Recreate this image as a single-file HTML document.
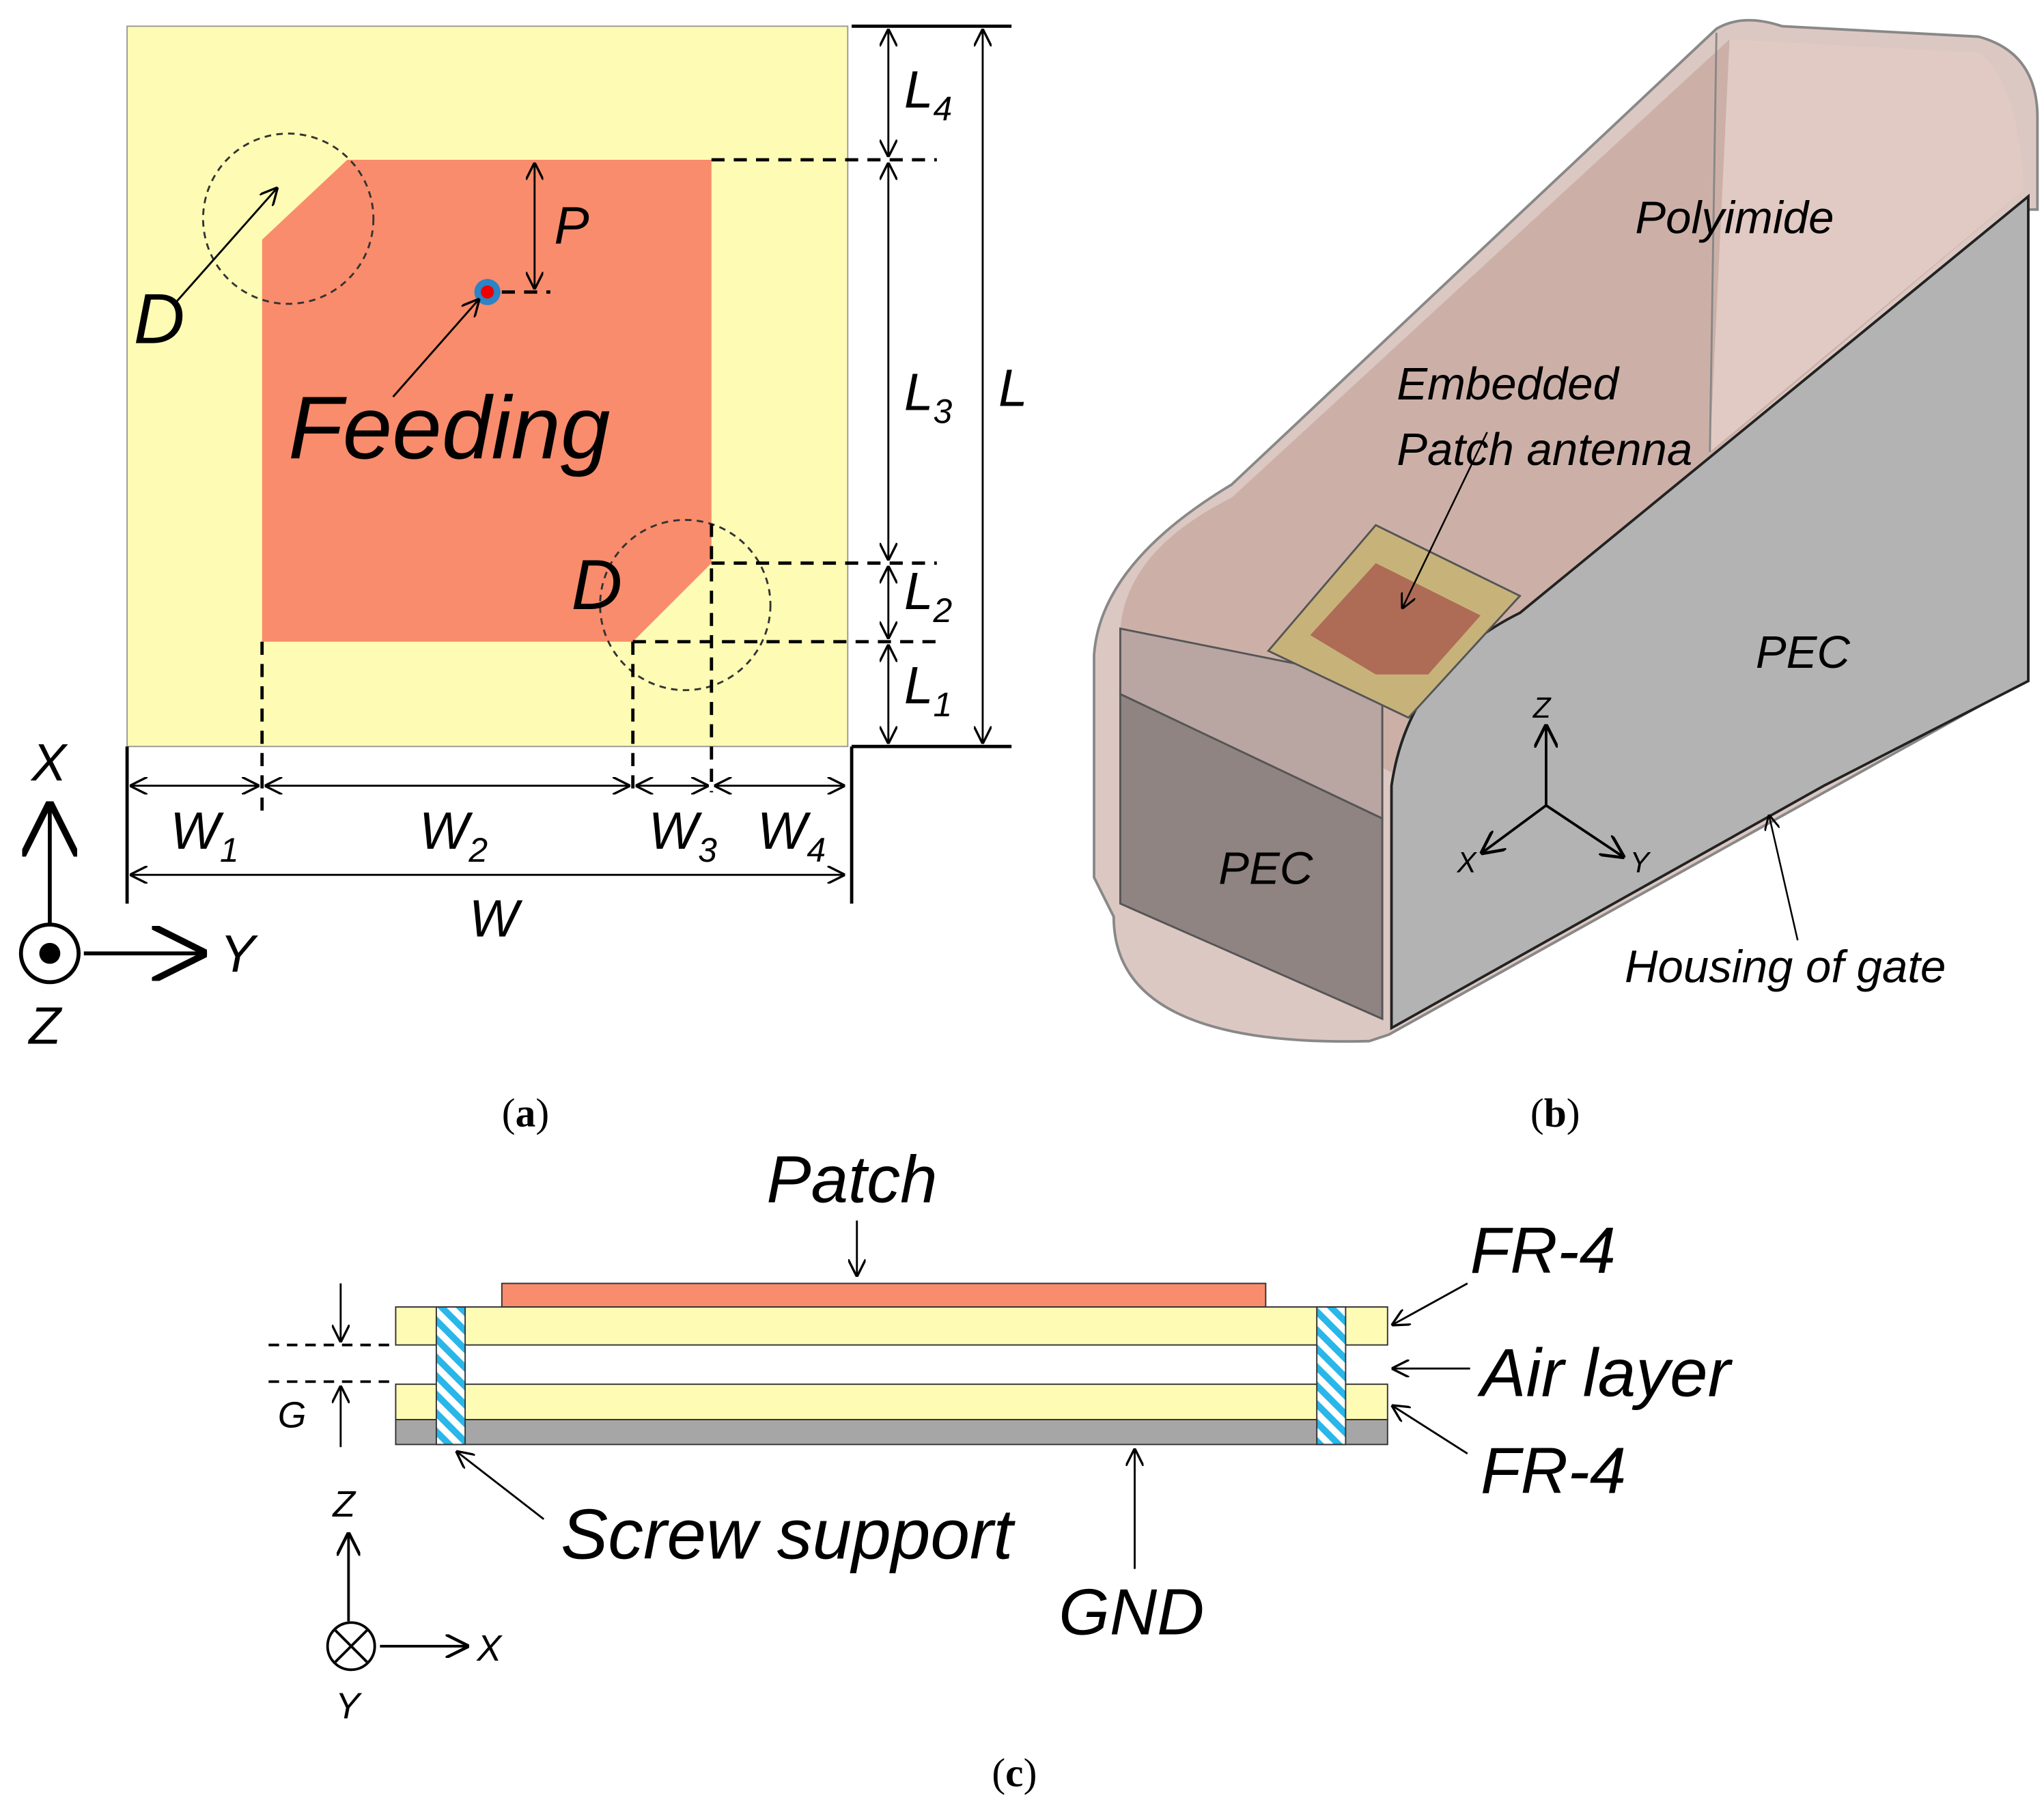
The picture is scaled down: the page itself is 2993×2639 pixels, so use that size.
<!DOCTYPE html>
<html><head><meta charset="utf-8"><style>
html,body{margin:0;padding:0;background:#fff}
svg{display:block}
text{font-family:"Liberation Sans",sans-serif;font-style:italic}
.cap{font-family:"Liberation Serif",serif;font-style:normal;font-size:31px}
</style></head><body>
<svg width="2993" height="2639" viewBox="0 0 1560 1376" preserveAspectRatio="none" xmlns="http://www.w3.org/2000/svg">
<defs>
<marker id="a" viewBox="0 0 10 10" refX="10" refY="5" markerWidth="9" markerHeight="9" orient="auto-start-reverse"><path d="M0,0 L10,5 L0,10" fill="none" stroke="#000" stroke-width="1.3"/></marker>
<marker id="b" viewBox="0 0 10 10" refX="10" refY="5" markerWidth="14" markerHeight="14" orient="auto-start-reverse"><path d="M0,0 L10,5 L0,10" fill="none" stroke="#000" stroke-width="1.2"/></marker>
<pattern id="h" width="10" height="10" patternUnits="userSpaceOnUse" patternTransform="rotate(-45)"><rect width="10" height="10" fill="#fff"/><rect width="5" height="10" fill="#29b6e8"/></pattern>
</defs>

<!-- (a) -->
<rect x="97" y="20" width="550" height="550" fill="#fefcb4" stroke="#999" stroke-width="1"/>
<polygon points="200,183 265,122 543,122 543,430 483,490 200,490" fill="#f98c6c"/>
<circle cx="220" cy="167" r="65" fill="none" stroke="#333" stroke-width="1.5" stroke-dasharray="5,4"/>
<circle cx="523" cy="462" r="65" fill="none" stroke="#333" stroke-width="1.5" stroke-dasharray="5,4"/>
<circle cx="372" cy="223" r="10" fill="#2c83c6"/><circle cx="372" cy="223" r="5" fill="#e00"/>
<g stroke="#000" stroke-width="2.5" stroke-dasharray="10,7" fill="none">
<line x1="543" y1="122" x2="715" y2="122"/>
<line x1="543" y1="430" x2="715" y2="430"/>
<line x1="483" y1="490" x2="715" y2="490"/>
<line x1="543" y1="400" x2="543" y2="605"/>
<line x1="483" y1="490" x2="483" y2="605"/>
<line x1="200" y1="490" x2="200" y2="620"/>
<line x1="383" y1="223" x2="420" y2="223"/>
</g>
<g stroke="#000" stroke-width="2.5">
<line x1="650" y1="20" x2="772" y2="20"/>
<line x1="650" y1="570" x2="772" y2="570"/>
<line x1="650" y1="570" x2="650" y2="690"/>
<line x1="97" y1="570" x2="97" y2="690"/>
</g>
<g stroke="#000" stroke-width="1.5" marker-start="url(#a)" marker-end="url(#a)">
<line x1="678" y1="22" x2="678" y2="120"/>
<line x1="678" y1="124" x2="678" y2="428"/>
<line x1="678" y1="432" x2="678" y2="488"/>
<line x1="678" y1="492" x2="678" y2="568"/>
<line x1="750" y1="22" x2="750" y2="568"/>
<line x1="408" y1="124" x2="408" y2="221"/>
<line x1="99" y1="600" x2="198" y2="600"/>
<line x1="202" y1="600" x2="481" y2="600"/>
<line x1="485" y1="600" x2="541" y2="600"/>
<line x1="545" y1="600" x2="645" y2="600"/>
<line x1="99" y1="668" x2="645" y2="668"/>
</g>
<g stroke="#000" stroke-width="1.5" marker-end="url(#a)">
<line x1="135" y1="230" x2="212" y2="143"/>
<line x1="300" y1="303" x2="366" y2="228"/>
</g>
<text x="102" y="262" font-size="54">D</text>
<text x="436" y="465" font-size="54">D</text>
<text x="220" y="350" font-size="68">Feeding</text>
<text x="423" y="186" font-size="40">P</text>
<text x="690" y="82" font-size="40">L<tspan font-size="26" dy="10">4</tspan></text>
<text x="690" y="313" font-size="40">L<tspan font-size="26" dy="10">3</tspan></text>
<text x="690" y="465" font-size="40">L<tspan font-size="26" dy="10">2</tspan></text>
<text x="690" y="537" font-size="40">L<tspan font-size="26" dy="10">1</tspan></text>
<text x="762" y="310" font-size="40">L</text>
<text x="130" y="648" font-size="40">W<tspan font-size="26" dy="10">1</tspan></text>
<text x="320" y="648" font-size="40">W<tspan font-size="26" dy="10">2</tspan></text>
<text x="495" y="648" font-size="40">W<tspan font-size="26" dy="10">3</tspan></text>
<text x="578" y="648" font-size="40">W<tspan font-size="26" dy="10">4</tspan></text>
<text x="358" y="715" font-size="40">W</text>
<line x1="38" y1="706" x2="38" y2="612" stroke="#000" stroke-width="3" marker-end="url(#b)"/>
<line x1="64" y1="728" x2="158" y2="728" stroke="#000" stroke-width="3" marker-end="url(#b)"/>
<circle cx="38" cy="728" r="22" fill="#fff" stroke="#000" stroke-width="3"/>
<circle cx="38" cy="728" r="8" fill="#000"/>
<text x="24" y="596" font-size="40">X</text>
<text x="168" y="742" font-size="40">Y</text>
<text x="22" y="797" font-size="40">Z</text>
<text x="383" y="860" class="cap">(<tspan font-weight="bold">a</tspan>)</text>

<!-- (b) -->
<path d="M835,670 L835,500 Q840,430 940,370 L1310,22 Q1330,10 1360,20 L1510,28 Q1555,40 1555,90 L1555,160 L1545,160 L1545,520 L1060,790 L1045,795 Q850,800 850,700 Z" fill="#dcc8c2" stroke="#888" stroke-width="2"/>
<path d="M855,480 Q860,420 940,380 L1320,30 L1510,40 Q1540,60 1545,145 L1160,470 Q1080,520 1062,590 Z" fill="#c9aba2" opacity="0.85"/>
<path d="M1320,30 L1510,40 Q1540,60 1545,145 L1305,345 Z" fill="#e3cdc7" opacity="0.9"/>
<line x1="1310" y1="25" x2="1305" y2="345" stroke="#888" stroke-width="1.5"/>
<polygon points="855,480 1055,520 1055,625 855,530" fill="#b9a5a2" stroke="#555" stroke-width="1.5"/>
<polygon points="855,530 1055,625 1055,778 855,690" fill="#8f8482" stroke="#555" stroke-width="1.5"/>
<path d="M1062,785 L1062,600 Q1075,510 1160,468 L1548,150 L1548,520 L1392,600 Z" fill="#b3b3b3" stroke="#222" stroke-width="2"/>
<polygon points="968,497 1050,401 1160,455 1075,548" fill="#c7b37a" stroke="#555" stroke-width="1.5"/>
<polygon points="1000,485 1050,430 1130,470 1090,515 1050,515" fill="#ae6b55"/>
<g stroke="#000" stroke-width="1.3">
<line x1="1135" y1="330" x2="1070" y2="465" marker-end="url(#a)"/>
<line x1="1372" y1="718" x2="1350" y2="622" marker-end="url(#a)"/>
<line x1="1180" y1="615" x2="1180" y2="553" stroke-width="2" marker-end="url(#a)"/>
<line x1="1180" y1="615" x2="1130" y2="652" stroke-width="2" marker-end="url(#a)"/>
<line x1="1180" y1="615" x2="1240" y2="655" stroke-width="2" marker-end="url(#a)"/>
</g>
<text x="1248" y="178" font-size="35">Polyimide</text>
<text x="1066" y="305" font-size="35">Embedded</text>
<text x="1066" y="355" font-size="35">Patch antenna</text>
<text x="1340" y="510" font-size="35">PEC</text>
<text x="930" y="675" font-size="35">PEC</text>
<text x="1240" y="750" font-size="35">Housing of gate</text>
<text x="1170" y="548" font-size="22">Z</text>
<text x="1112" y="666" font-size="22">X</text>
<text x="1244" y="666" font-size="22">Y</text>
<text x="1168" y="860" class="cap">(<tspan font-weight="bold">b</tspan>)</text>

<!-- (c) -->
<rect x="383" y="980" width="583" height="18" fill="#f98c6c" stroke="#333" stroke-width="1"/>
<rect x="302" y="998" width="757" height="29" fill="#fefcb4" stroke="#333" stroke-width="1"/>
<rect x="302" y="1057" width="757" height="27" fill="#fefcb4" stroke="#333" stroke-width="1"/>
<rect x="302" y="1084" width="757" height="19" fill="#a6a6a6" stroke="#333" stroke-width="1"/>
<rect x="333" y="998" width="22" height="105" fill="url(#h)" stroke="#333" stroke-width="1"/>
<rect x="1005" y="998" width="22" height="105" fill="url(#h)" stroke="#333" stroke-width="1"/>
<g stroke="#000" stroke-width="2" stroke-dasharray="8,6">
<line x1="205" y1="1027" x2="302" y2="1027"/>
<line x1="205" y1="1055" x2="302" y2="1055"/>
</g>
<g stroke="#000" stroke-width="1.5" marker-end="url(#a)">
<line x1="260" y1="980" x2="260" y2="1025"/>
<line x1="260" y1="1105" x2="260" y2="1058"/>
<line x1="654" y1="932" x2="654" y2="975"/>
<line x1="1120" y1="980" x2="1062" y2="1012"/>
<line x1="1122" y1="1045" x2="1062" y2="1045"/>
<line x1="1120" y1="1110" x2="1062" y2="1073"/>
<line x1="415" y1="1160" x2="348" y2="1108"/>
<line x1="866" y1="1198" x2="866" y2="1106"/>
<line x1="266" y1="1238" x2="266" y2="1170" stroke-width="2"/>
<line x1="290" y1="1257" x2="358" y2="1257" stroke-width="2"/>
</g>
<circle cx="268" cy="1257" r="18" fill="#fff" stroke="#000" stroke-width="2"/>
<line x1="256" y1="1245" x2="280" y2="1269" stroke="#000" stroke-width="2"/>
<line x1="280" y1="1245" x2="256" y2="1269" stroke="#000" stroke-width="2"/>
<text x="585" y="918" font-size="51">Patch</text>
<text x="1122" y="972" font-size="50">FR-4</text>
<text x="1130" y="1066" font-size="52">Air layer</text>
<text x="1130" y="1140" font-size="50">FR-4</text>
<text x="428" y="1190" font-size="54">Screw support</text>
<text x="808" y="1248" font-size="50">GND</text>
<text x="212" y="1090" font-size="28">G</text>
<text x="254" y="1158" font-size="28">Z</text>
<text x="364" y="1268" font-size="28">X</text>
<text x="256" y="1312" font-size="28">Y</text>
<text x="757" y="1364" class="cap">(<tspan font-weight="bold">c</tspan>)</text>
</svg>
</body></html>
